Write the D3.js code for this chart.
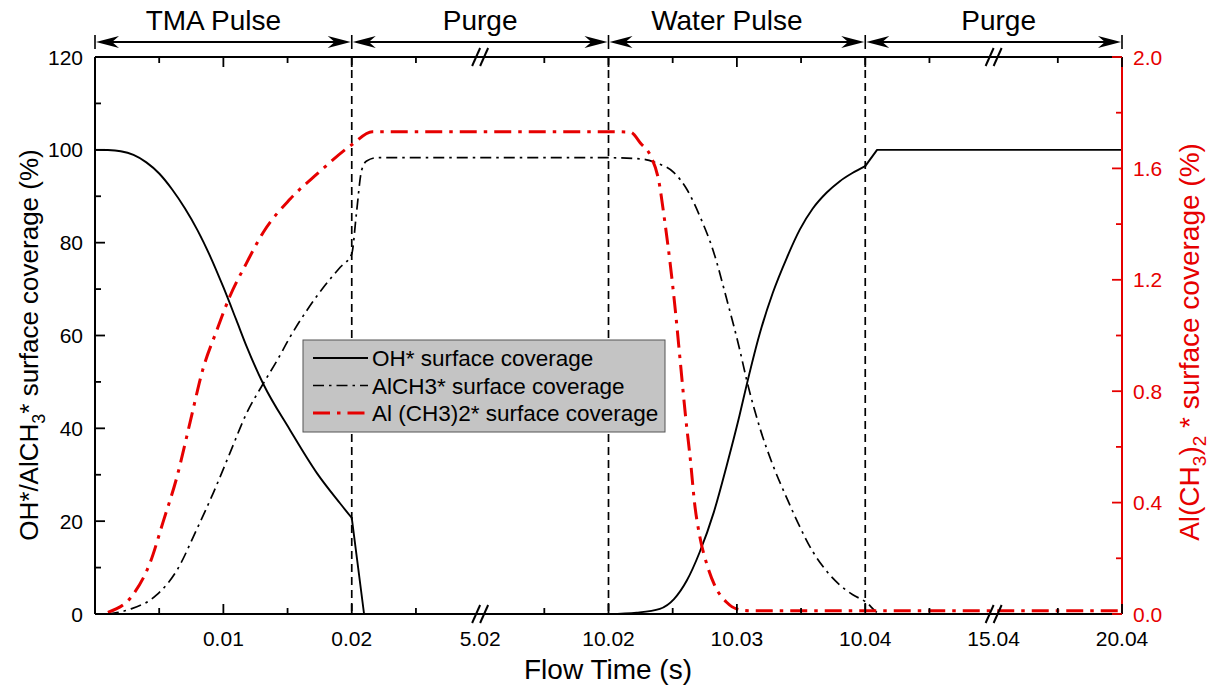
<!DOCTYPE html>
<html><head><meta charset="utf-8">
<script src="https://cdn.jsdelivr.net/npm/d3@7"></script>
<style>
body{margin:0;background:#fff}
svg{display:block}
text{font-family:"Liberation Sans",Arial,Helvetica,sans-serif}
</style>
</head><body>
<svg id="chart" width="1210" height="687"></svg>
<script>
// ---------- data ----------
const xBreakpoints = [0, 0.01, 0.02, 5.02, 10.02, 10.03, 10.04, 15.04, 20.04];
const xMajorTicks = [0.01, 0.02, 10.02, 10.03, 10.04, 20.04];
const xMinorTicks = [0.005, 0.015, 2.52, 7.52, 10.025, 10.035, 12.54, 17.54];
const xLabelValues = [0.01, 0.02, 5.02, 10.02, 10.03, 10.04, 15.04, 20.04];
const xTickLabels = ["0.01", "0.02", "5.02", "10.02", "10.03", "10.04", "15.04", "20.04"];
const xBreaks = [5.02, 15.04];
const phaseBounds = [0, 0.02, 10.02, 10.04, 20.04];
const phaseLabels = ["TMA Pulse", "Purge", "Water Pulse", "Purge"];
const leftTicks = [0, 20, 40, 60, 80, 100, 120];
const leftMinor = [10, 30, 50, 70, 90, 110];
const rightTicks = [0, 0.4, 0.8, 1.2, 1.6, 2.0];
const rightTickLabels = ["0.0", "0.4", "0.8", "1.2", "1.6", "2.0"];
const rightMinor = [0.2, 0.6, 1.0, 1.4, 1.8];

const ohTime = [0, 0.001, 0.002, 0.003, 0.004, 0.005, 0.006, 0.007, 0.008, 0.009, 0.01, 0.011, 0.0118, 0.0131, 0.0152, 0.0173, 0.0191, 0.02, 0.5,
  10.02, 10.0222, 10.024, 10.0251, 10.0261, 10.0271, 10.0282, 10.0292, 10.0302, 10.0308, 10.0318, 10.0328, 10.0339, 10.0349, 10.0359, 10.037, 10.038, 10.039, 10.04, 10.5, 20.04];
const ohValue = [100, 99.95, 99.7, 98.9, 97.3, 94.9, 91.5, 87.4, 82.6, 76.9, 70.4, 63.4, 57.7, 49.6, 39.6, 30.3, 23.8, 20.7, 0,
  0, 0.3, 1.1, 3.2, 7.2, 13.3, 21.9, 31.9, 42.7, 49.8, 60.6, 69.2, 76.8, 82.8, 87.3, 90.8, 93.2, 95, 96.5, 100, 100];
// purge stretches of OH are straight segments
const ohLinearRanges = [[0.02, 10.02], [10.04, 20.04]];

const alch3Time = [0.001, 0.0027, 0.0048, 0.0064, 0.0079, 0.0092, 0.0105, 0.0118, 0.0131, 0.0142, 0.0152, 0.0165, 0.0178, 0.0191, 0.02, 0.2, 0.4, 0.6, 1.0,
  10.02, 10.0227, 10.0237, 10.0251, 10.0261, 10.0271, 10.0282, 10.0292, 10.0302, 10.0308, 10.0318, 10.0328, 10.0339, 10.0349, 10.0359, 10.037, 10.038, 10.039, 10.04, 10.65, 20.04];
const alch3Value = [0, 1, 4.1, 9.5, 18.1, 26, 34.6, 43.2, 49.6, 54.7, 59.7, 65.4, 70.4, 74.7, 77.6, 86.2, 95.5, 97.6, 98.3,
  98.3, 98, 97.2, 95.1, 91.5, 85.8, 77.9, 67.9, 57.2, 50, 40, 32.1, 24.9, 18.8, 13.5, 9.2, 6.3, 4.2, 2.7, 0, 0];

const alch32Time = [0.001, 0.003, 0.0043, 0.0053, 0.0064, 0.0074, 0.0084, 0.0095, 0.0105, 0.0118, 0.0131, 0.0152, 0.0173, 0.02, 0.82,
  10.02, 10.0217, 10.0225, 10.0233, 10.0239, 10.0244, 10.0248, 10.0252, 10.0256, 10.026, 10.0264, 10.0267, 10.0271, 10.0277, 10.0283, 10.0292, 10.03, 10.031, 20.04];
const alch32Value = [0.006, 0.072, 0.185, 0.33, 0.495, 0.687, 0.878, 1.02, 1.14, 1.26, 1.37, 1.49, 1.58, 1.685, 1.732,
  1.732, 1.73, 1.69, 1.643, 1.559, 1.404, 1.26, 1.093, 0.902, 0.711, 0.544, 0.4, 0.281, 0.173, 0.1, 0.042, 0.018, 0.012, 0.012];

const legendLabels = ["OH* surface coverage", "AlCH3* surface coverage", "Al (CH3)2* surface coverage"];

// ---------- layout ----------
const L = 95, R = 1122, T = 57, B = 614;
const RED = "#e60000";
const svg = d3.select("#chart");

const x = d3.scaleLinear()
  .domain(xBreakpoints)
  .range(xBreakpoints.map((d, i) => L + i * (R - L) / (xBreakpoints.length - 1)));
const yL = d3.scaleLinear().domain([0, 120]).range([B, T]);
const yR = d3.scaleLinear().domain([0, 2]).range([B, T]);

// vertical dashed phase lines
svg.append("g").selectAll("line").data([0.02, 10.02, 10.04]).join("line")
  .attr("x1", d => x(d)).attr("x2", d => x(d)).attr("y1", T).attr("y2", B)
  .attr("stroke", "#000").attr("stroke-width", 1.7).attr("stroke-dasharray", "8,5");

// curves
const mk = (tt, vv) => tt.map((t, i) => [t, vv[i]]);
const lineL = d3.line().x(d => x(d[0])).y(d => yL(d[1])).curve(d3.curveMonotoneX);
const lineLlin = d3.line().x(d => x(d[0])).y(d => yL(d[1]));
const lineR = d3.line().x(d => x(d[0])).y(d => yR(d[1])).curve(d3.curveMonotoneX);

svg.append("path").datum(mk(alch3Time, alch3Value)).attr("d", lineL)
  .attr("fill", "none").attr("stroke", "#000").attr("stroke-width", 1.7).attr("stroke-dasharray", "11,5,2.5,5");

// OH: smooth during pulses, straight during purges
const ohPts = mk(ohTime, ohValue);
const inLin = t => ohLinearRanges.some(([a, b]) => t >= a && t <= b);
const ohParts = [];
ohLinearRanges.forEach(([a, b], k) => {
  const prevEnd = k === 0 ? -Infinity : ohLinearRanges[k - 1][1];
  ohParts.push({pts: ohPts.filter(p => p[0] >= prevEnd && p[0] <= a), lin: false});
  ohParts.push({pts: ohPts.filter(p => p[0] >= a && p[0] <= b), lin: true});
});
ohParts.forEach(part => {
  if (part.pts.length < 2) return;
  svg.append("path").datum(part.pts).attr("d", part.lin ? lineLlin : lineL)
    .attr("fill", "none").attr("stroke", "#000").attr("stroke-width", 1.9)
    .attr("stroke-linejoin", "round").attr("stroke-linecap", "round");
});

svg.append("path").datum(mk(alch32Time, alch32Value)).attr("d", lineR)
  .attr("fill", "none").attr("stroke", RED).attr("stroke-width", 3).attr("stroke-dasharray", "17,7,3.5,7");

// axes frame
const axisG = svg.append("g");
axisG.append("line").attr("x1", L).attr("x2", R).attr("y1", B).attr("y2", B).attr("stroke", "#000").attr("stroke-width", 2);
axisG.append("line").attr("x1", L).attr("x2", R).attr("y1", T).attr("y2", T).attr("stroke", "#000").attr("stroke-width", 2);
axisG.append("line").attr("x1", L).attr("x2", L).attr("y1", T).attr("y2", B).attr("stroke", "#000").attr("stroke-width", 2);
axisG.append("line").attr("x1", R).attr("x2", R).attr("y1", T).attr("y2", B).attr("stroke", RED).attr("stroke-width", 2);

// x ticks (inward, top and bottom)
function xTicks(vals, len) {
  [[B, -1], [T, 1]].forEach(([y0, dir]) => {
    axisG.append("g").selectAll("line").data(vals).join("line")
      .attr("x1", d => x(d)).attr("x2", d => x(d))
      .attr("y1", y0).attr("y2", y0 + dir * len)
      .attr("stroke", "#000").attr("stroke-width", 1.8);
  });
}
xTicks(xMajorTicks, 10);
xTicks(xMinorTicks, 6);

axisG.append("g").selectAll("text").data(xLabelValues).join("text")
  .attr("x", d => x(d)).attr("y", 646).attr("text-anchor", "middle")
  .attr("font-size", 21).attr("fill", "#000")
  .text((d, i) => xTickLabels[i]);

// break marks
xBreaks.forEach(b => {
  [B, T].forEach(y0 => {
    [-4, 4].forEach(off => {
      axisG.append("line")
        .attr("x1", x(b) + off - 4).attr("y1", y0 + 9)
        .attr("x2", x(b) + off + 4).attr("y2", y0 - 9)
        .attr("stroke", "#000").attr("stroke-width", 2);
    });
  });
});

// left axis ticks
axisG.append("g").selectAll("line").data(leftTicks).join("line")
  .attr("x1", L).attr("x2", L + 10).attr("y1", d => yL(d)).attr("y2", d => yL(d))
  .attr("stroke", "#000").attr("stroke-width", 1.8);
axisG.append("g").selectAll("line").data(leftMinor).join("line")
  .attr("x1", L).attr("x2", L + 6).attr("y1", d => yL(d)).attr("y2", d => yL(d))
  .attr("stroke", "#000").attr("stroke-width", 1.8);
axisG.append("g").selectAll("text").data(leftTicks).join("text")
  .attr("x", 83).attr("y", d => yL(d) + 7.5).attr("text-anchor", "end")
  .attr("font-size", 21).attr("fill", "#000").text(d => d);

// right axis ticks
axisG.append("g").selectAll("line").data(rightTicks).join("line")
  .attr("x1", R).attr("x2", R - 10).attr("y1", d => yR(d)).attr("y2", d => yR(d))
  .attr("stroke", RED).attr("stroke-width", 1.8);
axisG.append("g").selectAll("line").data(rightMinor).join("line")
  .attr("x1", R).attr("x2", R - 6).attr("y1", d => yR(d)).attr("y2", d => yR(d))
  .attr("stroke", RED).attr("stroke-width", 1.8);
axisG.append("g").selectAll("text").data(rightTicks).join("text")
  .attr("x", 1133).attr("y", d => yR(d) + 7.5).attr("text-anchor", "start")
  .attr("font-size", 21).attr("fill", RED).text((d, i) => rightTickLabels[i]);

// axis titles
svg.append("text").attr("x", 608).attr("y", 679).attr("text-anchor", "middle")
  .attr("font-size", 28).attr("fill", "#000").text("Flow Time (s)");

const lt = svg.append("text").attr("transform", "translate(38,345) rotate(-90)")
  .attr("text-anchor", "middle").attr("font-size", 26).attr("fill", "#000");
lt.append("tspan").text("OH*/AlCH");
lt.append("tspan").attr("dy", 7).attr("font-size", 18).text("3");
lt.append("tspan").attr("dy", -7).text("* surface coverage (%)");

const rt = svg.append("text").attr("transform", "translate(1199,342) rotate(-90)")
  .attr("text-anchor", "middle").attr("font-size", 28).attr("fill", RED);
rt.append("tspan").text("Al(CH");
rt.append("tspan").attr("dy", 7).attr("font-size", 19).text("3");
rt.append("tspan").attr("dy", -7).text(")");
rt.append("tspan").attr("dy", 7).attr("font-size", 19).text("2");
rt.append("tspan").attr("dy", -7).text(" * surface coverage (%)");

// phase arrows
const AY = 42;
const ag = svg.append("g");
function head(xt, dir) { // dir=+1 pointing right, -1 pointing left
  const Lh = 23, h = 6;
  const p = d3.path();
  p.moveTo(xt, AY);
  p.lineTo(xt - dir * Lh, AY - h);
  p.lineTo(xt - dir * Lh * 0.7, AY);
  p.lineTo(xt - dir * Lh, AY + h);
  p.closePath();
  ag.append("path").attr("d", p.toString()).attr("fill", "#000");
}
phaseBounds.forEach(b => {
  ag.append("line").attr("x1", x(b)).attr("x2", x(b)).attr("y1", AY - 7).attr("y2", AY + 7)
    .attr("stroke", "#000").attr("stroke-width", 1.6);
});
const labelShift = [-10, 0, -10, 5];
phaseLabels.forEach((lab, i) => {
  const x0 = x(phaseBounds[i]) + 1, x1 = x(phaseBounds[i + 1]) - 1;
  ag.append("line").attr("x1", x0 + 4).attr("x2", x1 - 4).attr("y1", AY).attr("y2", AY)
    .attr("stroke", "#000").attr("stroke-width", 2);
  head(x0, -1);
  head(x1, 1);
  ag.append("text").attr("x", (x0 + x1) / 2 + labelShift[i]).attr("y", 30).attr("text-anchor", "middle")
    .attr("font-size", 28).attr("fill", "#000").text(lab);
});

// legend
const lg = svg.append("g");
lg.append("rect").attr("x", 303).attr("y", 340).attr("width", 362).attr("height", 92)
  .attr("fill", "#c4c4c4").attr("stroke", "#555").attr("stroke-width", 1);
const legendStyles = [
  {stroke: "#000", w: 1.9, dash: null},
  {stroke: "#000", w: 1.7, dash: "11,5,2.5,5"},
  {stroke: RED, w: 3, dash: "17,7,3.5,7"}
];
legendLabels.forEach((lab, i) => {
  const yy = 358 + i * 27.5;
  const s = legendStyles[i];
  const ln = lg.append("line").attr("x1", 313).attr("x2", 368).attr("y1", yy).attr("y2", yy)
    .attr("stroke", s.stroke).attr("stroke-width", s.w);
  if (s.dash) ln.attr("stroke-dasharray", s.dash);
  lg.append("text").attr("x", 372).attr("y", yy + 8).attr("font-size", 22.5).attr("fill", "#000").text(lab);
});
</script>
</body></html>
